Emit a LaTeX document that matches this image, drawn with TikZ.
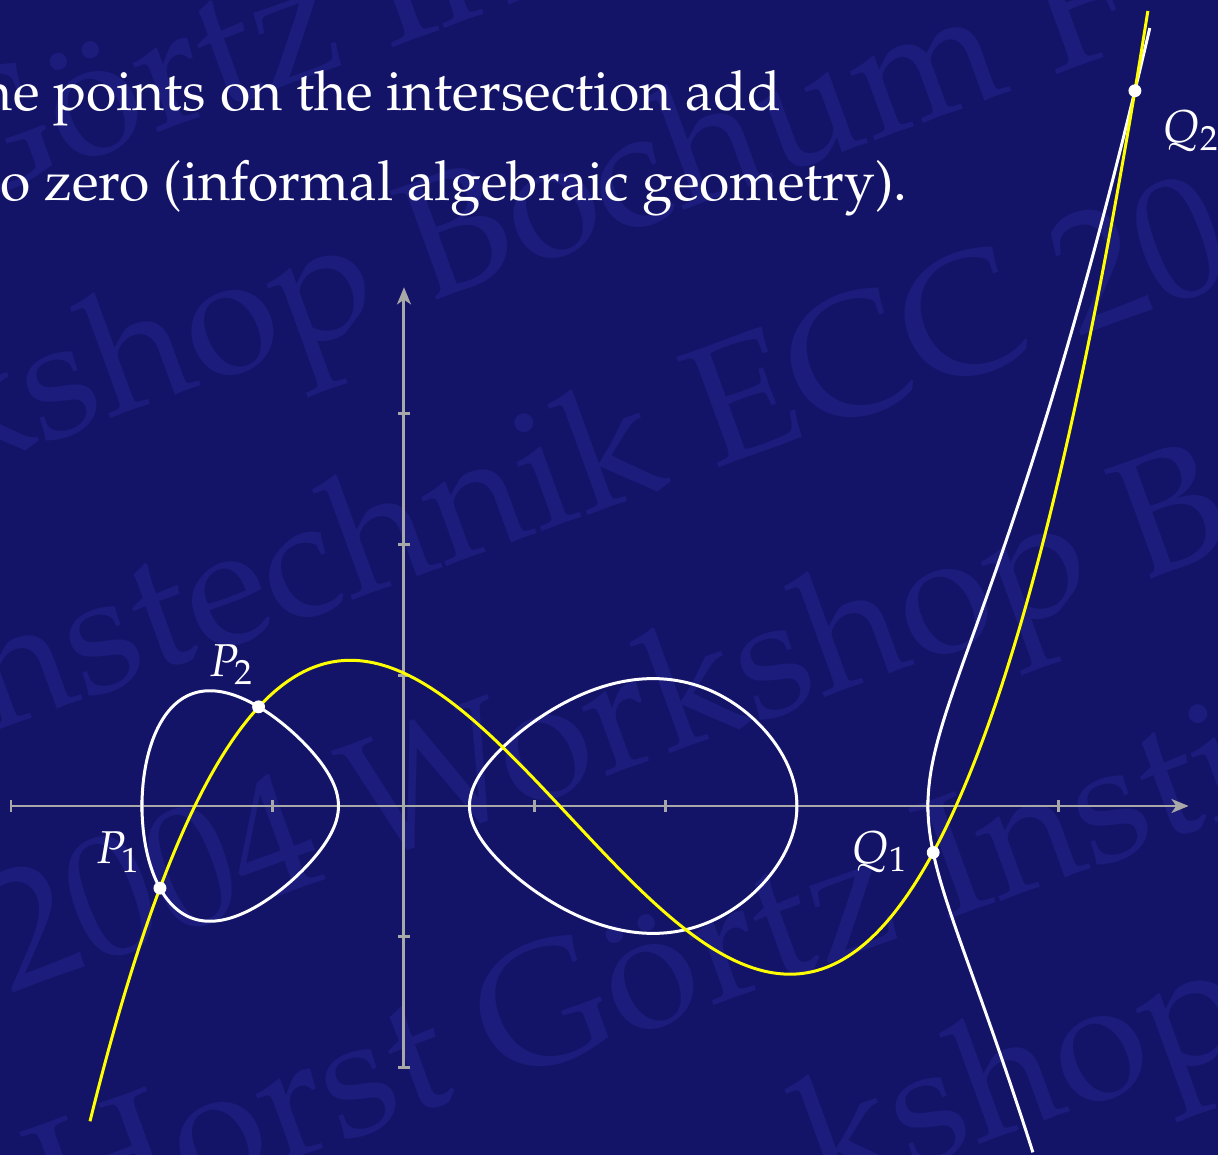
\documentclass[tikz,border=0pt]{standalone}
\usepackage[T1]{fontenc}
\usepackage{mathpazo}
\usepackage{tikz}
\usetikzlibrary{arrows.meta}
\definecolor{slidebg}{HTML}{131468}
\definecolor{wmark}{HTML}{1B1C7B}
\definecolor{axisgray}{HTML}{A8A8A8}
\definecolor{curvey}{HTML}{FFFF00}
\tikzset{
  wm/.style={text=wmark, font=\fontsize{37}{44}\selectfont, rotate=20, anchor=base west, inner sep=0pt},
  slidetext/.style={text=white, font=\fontsize{12}{14}\selectfont, anchor=base west, inner sep=0pt},
  axisline/.style={draw=axisgray, line width=0.65pt, -{Stealth[length=3.7pt, width=3pt, inset=1pt]}},
  tickmark/.style={draw=axisgray, line width=0.65pt},
  hypcurve/.style={draw=white, line width=0.65pt},
  cubcurve/.style={draw=curvey, line width=0.65pt},
  ptdot/.style={circle, fill=white, inner sep=0pt, minimum size=2.8pt},
  ptlabel/.style={text=white, font=\fontsize{10}{12}\selectfont, inner sep=0pt},
  declare function={
    cub(\x)=0.12684*\x*\x*\x-0.48276*\x*\x-0.45875*\x+1.01405;
    ga(\x)=(0.5-\x)*(3-\x)*(4-\x)/32;
    gb(\x)=(\x+2)*(\x+0.5)*(4-\x)/32;
    gc(\x)=(\x+2)*(\x+0.5)*(\x-0.5)*(\x-3)/32;
  }
}

\begin{document}
\begin{tikzpicture}
  \fill[slidebg] (-3.084,-2.664) rectangle (6.214,6.153);
  \useasboundingbox (-3.084,-2.664) rectangle (6.214,6.153);

  % watermark
  \node[wm] (wm1) at (-3.514,4.547) {G\"ortz In};
  \node[wm] (wm2) at (-3.451,2.518) {kshop Bochum F};
  \node[wm] (wm3) at (-3.159,0.561) {nstechnik ECC 20};
  \node[wm] (wm4) at (-3.011,-1.433) {2004 Workshop B};
  \node[wm] (wm5) at (-2.656,-3.350) {Horst G\"ortz Insti};
  \node[wm] (wm6) at (3.183,-3.021) {kshop};

  \node[slidetext] (line1) at (-3.237,5.313) {he points on the intersection add};
  \node[slidetext] (line2) at (-3.084,4.626) {o zero (informal algebraic geometry).};

  % axes
  \coordinate (xmin) at (-3,0);
  \coordinate (xmax) at (5.99,0);
  \coordinate (ymin) at (0,-2);
  \coordinate (ymax) at (0,3.96);
  \draw[axisline] (xmin) -- (xmax);
  \draw[axisline] (ymin) -- (ymax);
  \foreach \i in {-3,...,5} \draw[tickmark] (\i,-0.045) -- (\i,0.045);
  \foreach \j in {-2,...,3} \draw[tickmark] (-0.045,\j) -- (0.045,\j);

  % curve y^2 = f(x), three pieces
  \draw[hypcurve] plot[smooth cycle, domain=0:357, samples=120, variable=\t]
    ({-1.25-0.75*cos(\t)}, {0.75*sin(\t)*sqrt(ga(-1.25-0.75*cos(\t)))});
  \draw[hypcurve] plot[smooth cycle, domain=0:357, samples=120, variable=\t]
    ({1.75-1.25*cos(\t)}, {1.25*sin(\t)*sqrt(gb(1.75-1.25*cos(\t)))});
  \draw[hypcurve] plot[smooth, domain=-0.895:1.302, samples=80, variable=\u]
    ({4+\u*\u}, {\u*sqrt(gc(4+\u*\u))});

  % cubic through the four points
  \draw[cubcurve] plot[smooth, domain=-2.397:5.68, samples=150] (\x, {cub(\x)});

  \node[ptdot] (p1) at (-1.863,-0.627) {};
  \node[ptdot] (p2) at (-1.11,0.757) {};
  \node[ptdot] (q1) at (4.04,-0.355) {};
  \node[ptdot] (q2) at (5.58,5.46) {};
  \node[ptlabel] (p1lab) at ([shift={(-0.317,0.275)}]p1) {$P_1$};
  \node[ptlabel] (p2lab) at ([shift={(-0.206,0.321)}]p2) {$P_2$};
  \node[ptlabel] (q1lab) at ([shift={(-0.405,0.008)}]q1) {$Q_1$};
  \node[ptlabel] (q2lab) at ([shift={(0.431,-0.305)}]q2) {$Q_2$};
\end{tikzpicture}
\end{document}
